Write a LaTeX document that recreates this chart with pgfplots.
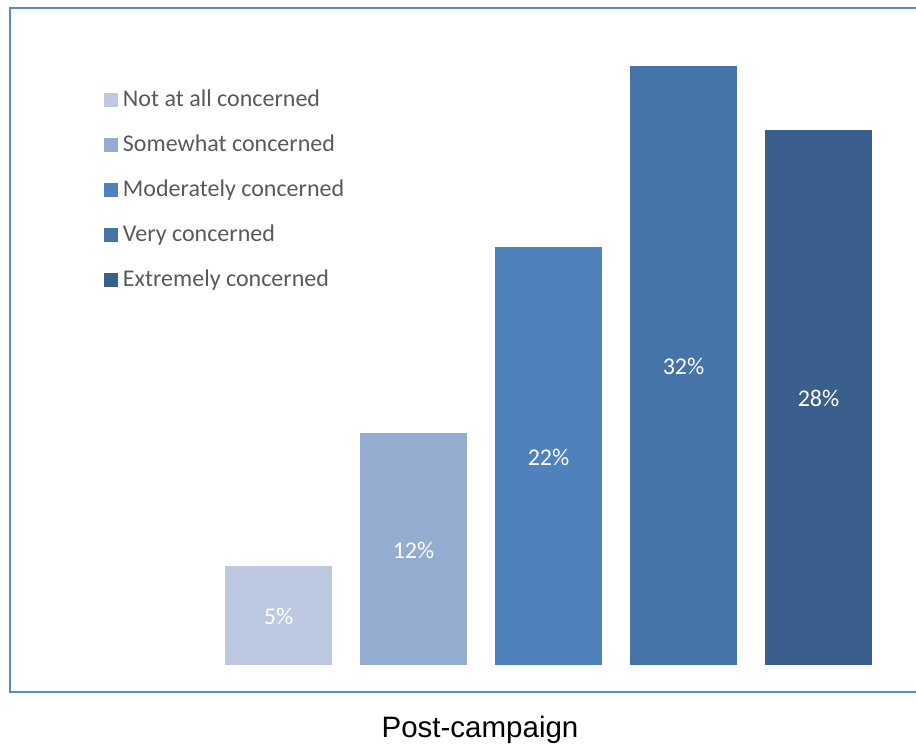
\documentclass[border=0pt]{standalone}
\usepackage{pgfplots}
\pgfplotsset{compat=1.18}
\usepackage{fontspec}
\setmainfont{Carlito}
\newfontfamily\arialfont{Liberation Sans}
\definecolor{c1}{RGB}{188,201,224}
\definecolor{c2}{RGB}{147,172,208}
\definecolor{c3}{RGB}{79,129,189}
\definecolor{c4}{RGB}{70,116,169}
\definecolor{c5}{RGB}{58,95,140}
\definecolor{bord}{RGB}{91,137,199}
\definecolor{legtext}{RGB}{89,89,89}
\pgfplotsset{mybar/.style={ybar, bar width=53.5pt, bar shift=0pt, draw=none, fill=#1,
  legend image code/.code={\fill[##1] (0pt,-3.5pt) rectangle (7pt,3.5pt); \path (8.5pt,0pt);}}}
\begin{document}
\begin{tikzpicture}
\begin{axis}[name=ax, scale only axis, width=453pt, height=342pt,
 xmin=-1.9889, xmax=4.7222, ymin=-1.4286, ymax=34.762,
 hide axis, clip=false,
 legend cell align=left,
 legend style={at={(axis cs:-1.293,30.61)}, anchor=north west, draw=none, fill=none,
   inner sep=0pt, outer sep=0pt, row sep=8.5pt,
   font=\fontsize{12}{14}\selectfont, text=legtext,
   nodes={inner sep=1pt, text height=9pt, text depth=3pt}},
]
\addplot[mybar=c1] coordinates {(0,5.24)};
\addlegendentry{Not at all concerned}
\addplot[mybar=c2] coordinates {(1,12.28)};
\addlegendentry{Somewhat concerned}
\addplot[mybar=c3] coordinates {(2,22.12)};
\addlegendentry{Moderately concerned}
\addplot[mybar=c4] coordinates {(3,31.69)};
\addlegendentry{Very concerned}
\addplot[mybar=c5] coordinates {(4,28.31)};
\addlegendentry{Extremely concerned}
\addplot[forget plot, draw=none, mark=none, nodes near coords, point meta=explicit symbolic,
  nodes near coords style={anchor=center, text=white, font=\fontsize{12}{14}\selectfont}]
  coordinates {(0,2.55)[5\%] (1,6.07)[12\%] (2,10.99)[22\%] (3,15.78)[32\%] (4,14.08)[28\%]};
\node[anchor=base, font=\arialfont\fontsize{14.75}{17}\selectfont, text=black] at (axis cs:1.4926,-3.81) {Post-campaign};
\end{axis}
\draw[bord, line width=1pt] (ax.north east) -- (ax.north west) -- (ax.south west) -- (ax.south east);
\pgfresetboundingbox
\useasboundingbox ([shift={(-5pt,-26pt)}]ax.south west) rectangle ([shift={(0pt,4pt)}]ax.north east);
\end{tikzpicture}
\end{document}
